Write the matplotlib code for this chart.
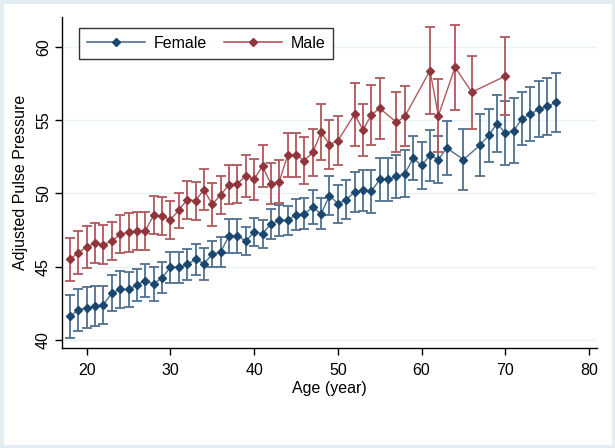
import matplotlib
matplotlib.use("Agg")
import matplotlib.pyplot as plt
from matplotlib.lines import Line2D

plt.rcParams['font.family'] = ['Liberation Sans', 'DejaVu Sans']

# ---- data ----
female_age = [18, 19, 20, 21, 22, 23, 24, 25, 26, 27, 28, 29, 30, 31, 32, 33, 34, 35, 36, 37,
              38, 39, 40, 41, 42, 43, 44, 45, 46, 47, 48, 49, 50, 51, 52, 53, 54, 55, 56, 57,
              58, 59, 60, 61, 62, 63, 65, 67, 68, 69, 70, 71, 72, 73, 74, 75, 76]
female_pp = [41.6, 42.05, 42.2, 42.3, 42.4, 43.2, 43.45, 43.45, 43.75, 44.05, 43.8, 44.25, 44.95, 44.95, 45.15, 45.5, 45.2, 45.85, 46.0, 47.1,
             47.1, 46.75, 47.35, 47.25, 47.9, 48.15, 48.15, 48.55, 48.6, 49.05, 48.6, 49.85, 49.3, 49.57, 50.1, 50.2, 50.14, 50.95, 50.95, 51.15,
             51.35, 52.4, 51.9, 52.6, 52.3, 53.1, 52.3, 53.3, 53.95, 54.75, 54.12, 54.28, 55.1, 55.4, 55.75, 55.93, 56.2]
female_ci = [1.47, 1.42, 1.4, 1.35, 1.3, 1.25, 1.25, 1.17, 1.1, 1.1, 1.15, 1.05, 1.07, 1.07, 1.05, 1.05, 1.08, 0.9, 1.03, 1.15,
             1.15, 0.95, 0.95, 0.95, 1.03, 1.03, 1.0, 1.05, 1.05, 1.15, 1.05, 1.3, 1.3, 1.33, 1.38, 1.38, 1.45, 1.47, 1.47, 1.5,
             1.6, 1.5, 1.6, 1.75, 1.6, 1.85, 2.1, 2.1, 1.8, 1.95, 2.2, 2.2, 1.8, 1.85, 1.9, 1.95, 2.03]

male_age = [18, 19, 20, 21, 22, 23, 24, 25, 26, 27, 28, 29, 30, 31, 32, 33, 34, 35, 36, 37,
            38, 39, 40, 41, 42, 43, 44, 45, 46, 47, 48, 49, 50, 52, 53, 54, 55, 57, 58, 61,
            62, 64, 66, 70]
male_pp = [45.5, 45.95, 46.35, 46.6, 46.5, 46.75, 47.2, 47.35, 47.45, 47.45, 48.5, 48.45, 48.2, 48.85, 49.57, 49.5, 50.25, 49.25, 49.9, 50.6,
           50.65, 51.2, 50.97, 51.85, 50.65, 50.8, 52.6, 52.6, 52.24, 52.8, 54.17, 53.33, 53.6, 55.4, 54.32, 55.35, 55.8, 54.85, 55.25, 58.37,
           55.3, 58.6, 56.9, 58.0]
male_ci = [1.45, 1.45, 1.43, 1.35, 1.35, 1.3, 1.3, 1.33, 1.3, 1.3, 1.3, 1.3, 1.3, 1.2, 1.3, 1.3, 1.4, 1.45, 1.28, 1.3,
           1.3, 1.45, 1.4, 1.45, 1.4, 1.45, 1.5, 1.5, 1.6, 1.6, 1.9, 1.7, 1.7, 2.15, 1.8, 2.05, 2.1, 2.05, 2.05, 2.95,
           2.5, 2.9, 2.5, 2.65]

x_ticks = [20, 30, 40, 50, 60, 70, 80]
y_ticks = [40, 45, 50, 55, 60]

navy = '#1a476f'
navy_light = '#4f7090'
maroon = '#90353b'
maroon_light = '#b0585e'

fig = plt.figure(figsize=(6.15, 4.48), dpi=100)
fig.patch.set_facecolor('white')
fig.patch.set_edgecolor('#e4edf1')
fig.patch.set_linewidth(5)

ax = fig.add_axes([62/615, 1-348/448, (597-62)/615, (348-17)/448])

for age, pp, ci, c_dark, c_light, lab in [
        (female_age, female_pp, female_ci, navy, navy_light, 'Female'),
        (male_age, male_pp, male_ci, maroon, maroon_light, 'Male')]:
    ax.errorbar(age, pp, yerr=ci, fmt='none', ecolor=c_light, elinewidth=1.3,
                capsize=3.5, capthick=1.3, zorder=2)
    ax.plot(age, pp, '-', color=c_light, lw=1.0, zorder=3)
    ax.plot(age, pp, 'D', color=c_dark, ms=4, zorder=4, label=lab)

handles = [Line2D([], [], color=navy_light, lw=1.2, marker='D', mfc=navy, mec=navy, ms=4),
           Line2D([], [], color=maroon_light, lw=1.2, marker='D', mfc=maroon, mec=maroon, ms=4)]
leg = ax.legend(handles, ['Female', 'Male'], loc='upper left', bbox_to_anchor=(0.032, 0.967),
                ncol=2, handlelength=3.6, columnspacing=1.1, handletextpad=0.55,
                fontsize=11.5, frameon=True, fancybox=False, borderpad=0.5,
                borderaxespad=0)
leg.get_frame().set_edgecolor('black')
leg.get_frame().set_linewidth(1.0)

ax.set_xlim(17.05, 80.95)
ax.set_ylim(39.45, 62.03)
ax.set_xticks(x_ticks)
ax.set_yticks(y_ticks)
ax.set_yticklabels([str(v) for v in y_ticks], rotation=90, va='center')
ax.tick_params(axis='both', direction='out', length=5, width=1, labelsize=11.5, color='black')
ax.tick_params(axis='x', pad=6)
ax.tick_params(axis='y', pad=3)
for v in y_ticks:
    ax.axhline(v, color='#eaf2f3', lw=1.0, zorder=0)

ax.spines['top'].set_visible(False)
ax.spines['right'].set_visible(False)
ax.spines['left'].set_linewidth(1.0)
ax.spines['bottom'].set_linewidth(1.0)

ax.set_xlabel('Age (year)', fontsize=11.5, labelpad=2)
ax.set_ylabel('Adjusted Pulse Pressure', fontsize=11.5, labelpad=6)

fig.savefig('out.png', dpi=100, facecolor=fig.get_facecolor(), edgecolor=fig.get_edgecolor())
